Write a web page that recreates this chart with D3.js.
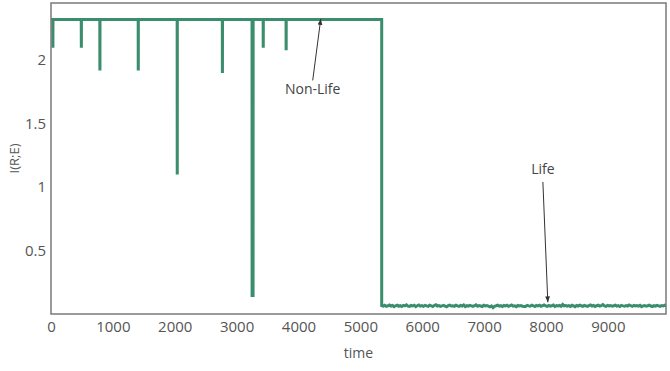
<!DOCTYPE html>
<html>
<head>
<meta charset="utf-8">
<script src="https://cdn.jsdelivr.net/npm/d3@7"></script>
<style>
  body { margin: 0; background: #fff; }
  text { font-family: "Open Sans", "Noto Sans", sans-serif; }
</style>
</head>
<body>
<div id="chart"></div>
<script>
// --- DATA ---
const nonLifeLevel = 2.32;
const spikeTimes = [30, 490, 790, 1410, 2040, 2770, 3250, 3430, 3800];
const spikeValues = [2.11, 2.11, 1.93, 1.93, 1.11, 1.91, 0.146, 2.11, 2.09];
const spikeWidths = [1, 1, 1, 1, 1, 1, 16, 1, 1];
const dropTime = 5345;
const lifeStep = 25;
const lifeValues = [
  0.066,0.062,0.069,0.060,0.064,0.071,0.063,0.067,0.058,0.065,
  0.070,0.061,0.066,0.059,0.068,0.064,0.072,0.062,0.060,0.067,
  0.063,0.069,0.058,0.065,0.071,0.062,0.066,0.060,0.068,0.064,
  0.061,0.070,0.065,0.059,0.067,0.073,0.063,0.066,0.060,0.064,
  0.068,0.062,0.057,0.066,0.070,0.063,0.065,0.061,0.069,0.064,
  0.060,0.067,0.063,0.071,0.058,0.066,0.062,0.068,0.064,0.060,
  0.065,0.072,0.061,0.067,0.063,0.059,0.069,0.064,0.066,0.062,
  0.056,0.064,0.050,0.061,0.065,0.070,0.062,0.066,0.059,0.067,
  0.063,0.069,0.060,0.065,0.071,0.062,0.064,0.058,0.067,0.063,
  0.066,0.061,0.060,0.060,0.068,0.064,0.062,0.070,0.065,0.059,
  0.067,0.063,0.069,0.061,0.066,0.072,0.064,0.060,0.068,0.062,
  0.065,0.070,0.059,0.066,0.063,0.068,0.061,0.075,0.064,0.067,
  0.062,0.066,0.060,0.069,0.064,0.058,0.067,0.063,0.070,0.065,
  0.061,0.068,0.064,0.060,0.066,0.071,0.063,0.067,0.059,0.065,
  0.069,0.062,0.066,0.074,0.064,0.060,0.068,0.063,0.067,0.061,
  0.065,0.070,0.062,0.066,0.059,0.068,0.064,0.061,0.067,0.063,
  0.071,0.065,0.060,0.068,0.063,0.066,0.062,0.069,0.058,0.064,
  0.067,0.061,0.065,0.070,0.063,0.059,0.066,0.062,0.068,0.064,
  0.060,0.066,0.063,0.069,0.065
];
const xTicks = [0, 1000, 2000, 3000, 4000, 5000, 6000, 7000, 8000, 9000];
const yTicks = [0.5, 1, 1.5, 2];
const annotations = [
  { label: "Non-Life", tip: [4360, 2.325], tail: [4230, 1.84], text: [4230, 1.76] },
  { label: "Life", tip: [8030, 0.092], tail: [7950, 1.04], text: [7950, 1.13] }
];

// --- LAYOUT ---
const width = 670, height = 371;
const margin = { top: 3, right: 4, bottom: 57, left: 51 };
const lineColor = "#3b8e6d";

const svg = d3.select("#chart").append("svg")
  .attr("width", width)
  .attr("height", height);

const x = d3.scaleLinear().domain([0, 9940]).range([margin.left, width - margin.right]);
const y = d3.scaleLinear().domain([0, 2.45]).range([height - margin.bottom, margin.top]);

// build the series points from the arrays
const points = [[0, nonLifeLevel]];
spikeTimes.forEach((t, i) => {
  points.push([t - 1, nonLifeLevel]);
  points.push([t, spikeValues[i]]);
  points.push([t + spikeWidths[i], spikeValues[i]]);
  points.push([t + spikeWidths[i] + 1, nonLifeLevel]);
});
points.push([dropTime, nonLifeLevel]);
lifeValues.forEach((v, i) => points.push([dropTime + i * lifeStep, v]));

const defs = svg.append("defs");
defs.append("clipPath").attr("id", "clip")
  .append("rect")
  .attr("x", margin.left).attr("y", margin.top)
  .attr("width", width - margin.left - margin.right)
  .attr("height", height - margin.top - margin.bottom);

svg.append("path")
  .datum(points)
  .attr("clip-path", "url(#clip)")
  .attr("fill", "none")
  .attr("stroke", lineColor)
  .attr("stroke-width", 3)
  .attr("stroke-linejoin", "miter")
  .attr("d", d3.line().x(d => x(d[0])).y(d => y(d[1])));

// frame
svg.append("rect")
  .attr("x", margin.left).attr("y", margin.top)
  .attr("width", width - margin.left - margin.right)
  .attr("height", height - margin.top - margin.bottom)
  .attr("fill", "none")
  .attr("stroke", "#7a7a7a")
  .attr("stroke-width", 1.5);

// axes (labels only, no tick marks)
const xAxis = svg.append("g")
  .attr("transform", `translate(0,${height - margin.bottom})`)
  .call(d3.axisBottom(x).tickValues(xTicks).tickSize(0).tickPadding(7).tickFormat(d3.format("d")));
const yAxis = svg.append("g")
  .attr("transform", `translate(${margin.left},0)`)
  .call(d3.axisLeft(y).tickValues(yTicks).tickSize(0).tickPadding(5).tickFormat(d => d));
[xAxis, yAxis].forEach(g => {
  g.select(".domain").remove();
  g.selectAll("text").attr("fill", "#555").style("font-size", "15px")
    .style("font-family", '"Open Sans", sans-serif');
});

svg.append("text")
  .attr("x", (margin.left + width - margin.right) / 2)
  .attr("y", 358)
  .attr("text-anchor", "middle")
  .attr("fill", "#555")
  .style("font-size", "14px")
  .text("time");

svg.append("text")
  .attr("transform", `translate(19,${(margin.top + height - margin.bottom) / 2}) rotate(-90)`)
  .attr("text-anchor", "middle")
  .attr("fill", "#555")
  .style("font-size", "13px")
  .text("I(R;E)");

// annotations
defs.append("marker")
  .attr("id", "arrow")
  .attr("viewBox", "0 0 10 10")
  .attr("refX", 10).attr("refY", 5)
  .attr("markerWidth", 6).attr("markerHeight", 6)
  .attr("orient", "auto")
  .append("path")
  .attr("d", "M0,1 L10,5 L0,9 Z")
  .attr("fill", "#333");

annotations.forEach(a => {
  svg.append("line")
    .attr("x1", x(a.tail[0])).attr("y1", y(a.tail[1]))
    .attr("x2", x(a.tip[0])).attr("y2", y(a.tip[1]))
    .attr("stroke", "#333")
    .attr("stroke-width", 1)
    .attr("marker-end", "url(#arrow)");
  svg.append("text")
    .attr("x", x(a.text[0]))
    .attr("y", y(a.text[1]))
    .attr("text-anchor", "middle")
    .attr("dominant-baseline", "middle")
    .attr("fill", "#444")
    .style("font-size", "14px")
    .text(a.label);
});
</script>
</body>
</html>
